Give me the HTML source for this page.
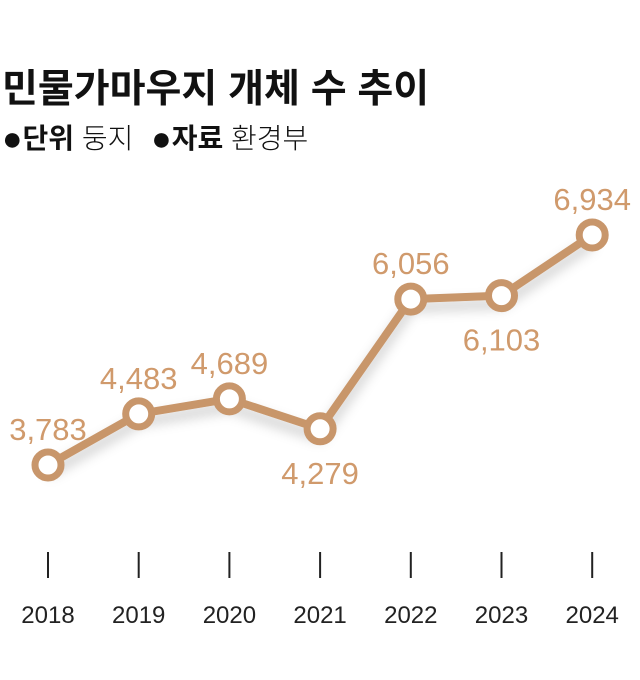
<!DOCTYPE html>
<html><head><meta charset="utf-8"><style>
body{margin:0;background:#fff;width:640px;height:680px;overflow:hidden}
svg{display:block}
</style></head><body>
<svg width="640" height="680">
<defs><filter id="sh" x="-20%" y="-20%" width="140%" height="160%"><feDropShadow dx="0" dy="8" stdDeviation="6" flood-color="#000" flood-opacity="0.22"/></filter></defs>
<text x="2" y="102" font-family="'Liberation Sans','Noto Sans CJK KR',sans-serif" font-size="39" font-weight="bold" fill="#111">민물가마우지 개체 수 추이</text>
<text x="2" y="148" font-family="'Liberation Sans','Noto Sans CJK KR',sans-serif" font-size="28" fill="#111"><tspan font-size="34" dy="2">●</tspan><tspan font-weight="bold" dy="-2">단위</tspan><tspan font-weight="300"> 둥지  </tspan><tspan dx="10" font-size="34" dy="2">●</tspan><tspan font-weight="bold" dy="-2">자료</tspan><tspan font-weight="300"> 환경부</tspan></text>
<g id="g"></g>
</svg>
<script>
const categories=["2018","2019","2020","2021","2022","2023","2024"];
const values=[3783,4483,4689,4279,6056,6103,6934];
const labelBelow=[false,false,false,true,false,true,false];
const ns="http://www.w3.org/2000/svg";
const g=document.getElementById('g');
function xs(i){return 48+i*90.7;}
function ys(v){return 465-(v-3783)*0.073;}
function mk(t,a){const e=document.createElementNS(ns,t);for(const k in a)e.setAttribute(k,a[k]);g.appendChild(e);return e;}
categories.forEach((c,i)=>{
 const t=mk('line',{x1:xs(i),x2:xs(i),y1:552,y2:578,stroke:'#222','stroke-width':2});
 
 
 const l=mk('text',{x:xs(i),y:623,'text-anchor':'middle','font-family':'Liberation Sans,sans-serif','font-size':24,fill:'#222'});
 l.textContent=c;
 
 
});
const pts=values.map((v,i)=>xs(i)+','+ys(v)).join(' ');
const pl=mk('polyline',{points:pts,fill:'none',stroke:'#c8966b','stroke-width':8,'stroke-linejoin':'round',filter:'url(#sh)'});


values.forEach((v,i)=>{
 const c=mk('circle',{cx:xs(i),cy:ys(v),r:13,fill:'#fff',stroke:'#c8966b','stroke-width':7});
 
 
 const t=mk('text',{x:xs(i),y:labelBelow[i]?ys(v)+55:ys(v)-25,'text-anchor':'middle','font-family':'Liberation Sans,sans-serif','font-size':31,fill:'#d09a6c'});
 t.textContent=v.toLocaleString('en-US');
 
 
});
</script>
</body></html>
